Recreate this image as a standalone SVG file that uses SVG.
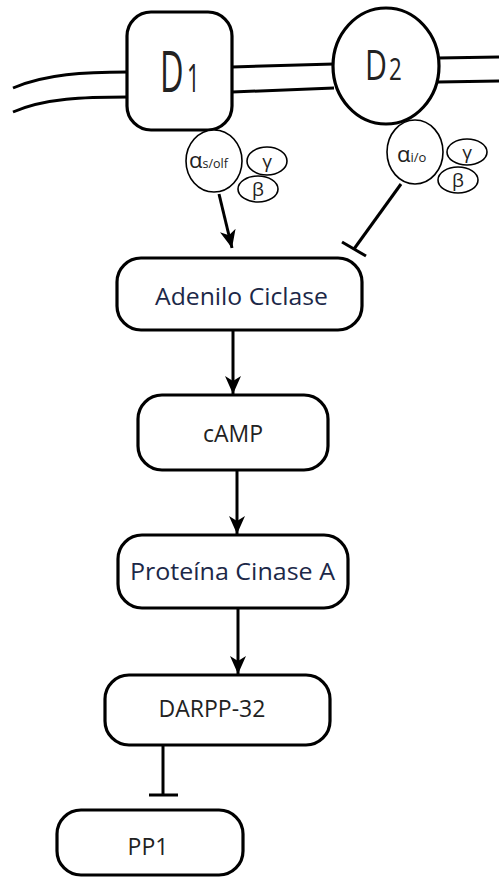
<svg xmlns="http://www.w3.org/2000/svg" width="499" height="881" viewBox="0 0 499 881">
<style>
.box{fill:#fff;stroke:#000;stroke-width:3.2}
.mem{fill:none;stroke:#000;stroke-width:3}
.gp{fill:#fff;stroke:#000;stroke-width:1.6}
.ln{fill:none;stroke:#000;stroke-width:3}
.lbl{font-family:"Open Sans","DejaVu Sans",sans-serif;font-size:23px;fill:#222;text-anchor:middle}
.lblb{font-family:"Open Sans","DejaVu Sans",sans-serif;font-size:23px;fill:#1c2848}
.rec{font-family:"Open Sans","DejaVu Sans",sans-serif;fill:#222}
.gt{font-family:"Open Sans","DejaVu Sans",sans-serif;fill:#222}
</style>
<defs>
<marker id="arr" markerUnits="userSpaceOnUse" markerWidth="20" markerHeight="20" viewBox="0 0 20 20" refX="18" refY="10" orient="auto">
<path d="M0,2 L18,10 L0,18 L5,10 Z" fill="#000"/>
</marker>
</defs>
<rect width="499" height="881" fill="#fff"/>
<g id="membrane">
<path class="mem" d="M13,88 C45,74 85,72 128,72"/>
<path class="mem" d="M13,112 C45,98 85,97 128,97"/>
<path class="mem" d="M232,67 L334,64"/>
<path class="mem" d="M232,92 L334,88"/>
<path class="mem" d="M438,58 L499,57"/>
<path class="mem" d="M438,82 L499,81"/>
</g>
<g id="connectors">
<line class="ln" x1="219" y1="194" x2="232" y2="248" marker-end="url(#arr)"/>
<line class="ln" x1="401" y1="184" x2="354" y2="249"/>
<line class="ln" x1="342" y1="242" x2="366" y2="256"/>
<line class="ln" x1="233" y1="330" x2="233" y2="394" marker-end="url(#arr)"/>
<line class="ln" x1="237" y1="470" x2="237" y2="534" marker-end="url(#arr)"/>
<line class="ln" x1="238" y1="608" x2="238" y2="674" marker-end="url(#arr)"/>
<line class="ln" x1="163" y1="745" x2="163" y2="795"/>
<line class="ln" x1="149" y1="795" x2="178" y2="795"/>
</g>
<g id="D1">
<rect class="box" x="127" y="12" width="105" height="118" rx="24"/>
<text class="rec" font-size="56" transform="translate(160,92) scale(0.58,1)">D<tspan font-size="38" dx="6">1</tspan></text>
</g>
<g id="D2">
<ellipse class="box" cx="386" cy="66" rx="53" ry="58"/>
<text class="rec" font-size="42" transform="translate(365,80) scale(0.72,1)">D<tspan font-size="31" dx="3">2</tspan></text>
</g>
<g id="Gs">
<ellipse class="gp" cx="214" cy="161" rx="28" ry="31"/>
<ellipse class="gp" cx="267" cy="161" rx="20" ry="14"/>
<ellipse class="gp" cx="258" cy="189" rx="20" ry="13"/>
<text class="gt" y="168"><tspan x="189" font-size="22">α</tspan><tspan font-size="12.5">s/olf</tspan></text>
<text class="gt" x="267" y="168" font-size="19" text-anchor="middle">γ</text>
<text class="gt" x="258" y="196" font-size="19" text-anchor="middle">β</text>
</g>
<g id="Gi">
<ellipse class="gp" cx="415" cy="152" rx="28" ry="32"/>
<ellipse class="gp" cx="467" cy="152" rx="20" ry="13"/>
<ellipse class="gp" cx="458" cy="180" rx="20" ry="13"/>
<text class="gt" y="162"><tspan x="397" font-size="22">α</tspan><tspan font-size="13">i/o</tspan></text>
<text class="gt" x="467" y="159" font-size="19" text-anchor="middle">γ</text>
<text class="gt" x="458" y="187" font-size="19" text-anchor="middle">β</text>
</g>
<g id="AC">
<rect class="box" x="117" y="258" width="245" height="72" rx="24"/>
<text class="lblb" x="155" y="305" textLength="173" lengthAdjust="spacingAndGlyphs">Adenilo Ciclase</text>
</g>
<g id="cAMP">
<rect class="box" x="138" y="395" width="190" height="75" rx="24"/>
<text class="lbl" x="233" y="442">cAMP</text>
</g>
<g id="PKA">
<rect class="box" x="118" y="535" width="230" height="73" rx="24"/>
<text class="lblb" x="130" y="580" textLength="205" lengthAdjust="spacingAndGlyphs">Proteína Cinase A</text>
</g>
<g id="DARPP32">
<rect class="box" x="105" y="675" width="225" height="70" rx="24"/>
<text class="lbl" x="212" y="717">DARPP-32</text>
</g>
<g id="PP1">
<rect class="box" x="57" y="810" width="186" height="65" rx="24"/>
<text class="lbl" x="148" y="855">PP1</text>
</g>
</svg>
